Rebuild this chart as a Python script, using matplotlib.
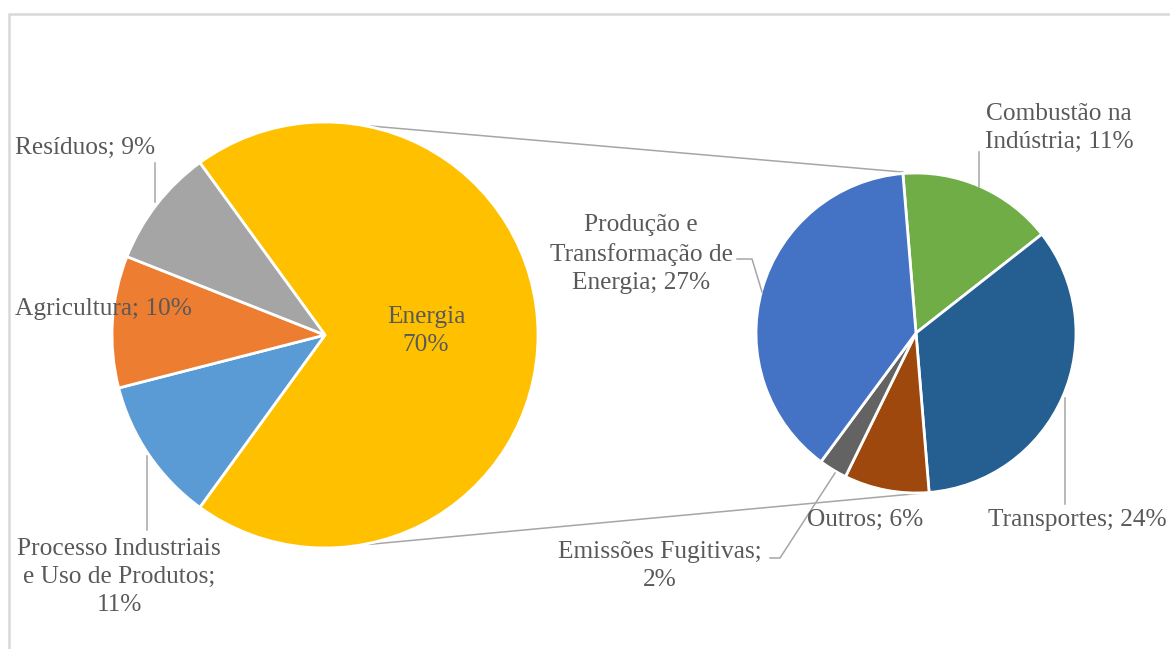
import numpy as np
import matplotlib
matplotlib.use("Agg")
import matplotlib.pyplot as plt
from matplotlib.patches import Rectangle

# ---- data ----
main_labels = ["Energia", "Processo Industriais\ne Uso de Produtos", "Agricultura", "Resíduos"]
main_values = [70, 11, 10, 9]
main_colors = ["#FFC000", "#5B9BD5", "#ED7D31", "#A5A5A5"]

sub_labels = ["Combustão na\nIndústria", "Transportes", "Outros", "Emissões Fugitivas",
              "Produção e\nTransformação de\nEnergia"]
sub_values = [11, 24, 6, 2, 27]
sub_colors = ["#70AD47", "#255E91", "#9E480E", "#636363", "#4472C4"]

W, H = 1170, 649
def Y(y):
    return H - y

plt.rcParams['font.family'] = ['Liberation Serif', 'DejaVu Serif']
TXT = "#595959"
FS = 18.3

fig = plt.figure(figsize=(W / 100, H / 100), dpi=100)
ax = fig.add_axes([0, 0, 1, 1])

# main pie
c1 = (325, Y(335)); r1 = 213
start1 = 360 * main_values[0] / 100 / 2
ax.pie(main_values, colors=main_colors, startangle=start1, counterclock=False,
       center=c1, radius=r1, wedgeprops=dict(edgecolor="white", linewidth=2))

# secondary pie
c2 = (916, Y(333)); r2 = 160
start2 = 94.7
ax.pie(sub_values, colors=sub_colors, startangle=start2, counterclock=False,
       center=c2, radius=r2, wedgeprops=dict(edgecolor="white", linewidth=2))

ax.set_xlim(0, W); ax.set_ylim(0, H)
ax.set_aspect("auto")
ax.axis("off")

# connector lines
def pt(c, r, a):
    return (c[0] + r * np.cos(np.radians(a)), c[1] + r * np.sin(np.radians(a)))
tot2 = sum(sub_values)
end_trans = start2 - 360 * (sub_values[0] + sub_values[1]) / tot2
for a1, a2, rr in [(77.5, start2, r2 + 1.5), (-78, end_trans, r2)]:
    p1 = pt(c1, r1 + 1, a1); p2 = pt(c2, rr, a2)
    ax.plot([p1[0], p2[0]], [p1[1], p2[1]], color="#A6A6A6", lw=1.1, zorder=0.5)

# border
ax.add_patch(Rectangle((9, Y(660)), 1200, 646, fill=False, edgecolor="#D9D9D9", lw=1.8))

def pct(v):
    return f"{v}%"

kw = dict(color=TXT, fontsize=FS, linespacing=1.36)
# main labels
ax.text(426, Y(331), f"{main_labels[0]}\n{pct(main_values[0])}", ha="center", va="center", **kw)
ax.text(15, Y(148), f"{main_labels[3]}; {pct(main_values[3])}", ha="left", va="center", **kw)
ax.text(15, Y(309), f"{main_labels[2]}; {pct(main_values[2])}", ha="left", va="center", **kw)
ax.text(119, Y(577), f"{main_labels[1]};\n{pct(main_values[1])}", ha="center", va="center", **kw)

# sub labels
ax.text(1059, Y(128), f"{sub_labels[0]}; {pct(sub_values[0])}", ha="center", va="center", **kw)
ax.text(988, Y(520), f"{sub_labels[1]}; {pct(sub_values[1])}", ha="left", va="center", **kw)
ax.text(865, Y(520), f"{sub_labels[2]}; {pct(sub_values[2])}", ha="center", va="center", **kw)
ax.text(660, Y(566), f"{sub_labels[3]};\n{pct(sub_values[3])}", ha="center", va="center", **kw)
ax.text(641, Y(254), f"{sub_labels[4]}; {pct(sub_values[4])}", ha="center", va="center", **kw)

# leader lines
LC = "#A6A6A6"
leaders = [
    [(155, 163), (155, 202)],
    [(147, 456), (147, 530)],
    [(979, 152), (979, 187)],
    [(1065, 398), (1065, 504)],
    [(737, 259), (752, 259), (762, 292)],
    [(770, 558), (780, 558), (835, 473)],
]
for seg in leaders:
    xs = [p[0] for p in seg]; ys = [Y(p[1]) for p in seg]
    ax.plot(xs, ys, color=LC, lw=1.1)

fig.savefig("out.png", dpi=100, facecolor="white")
